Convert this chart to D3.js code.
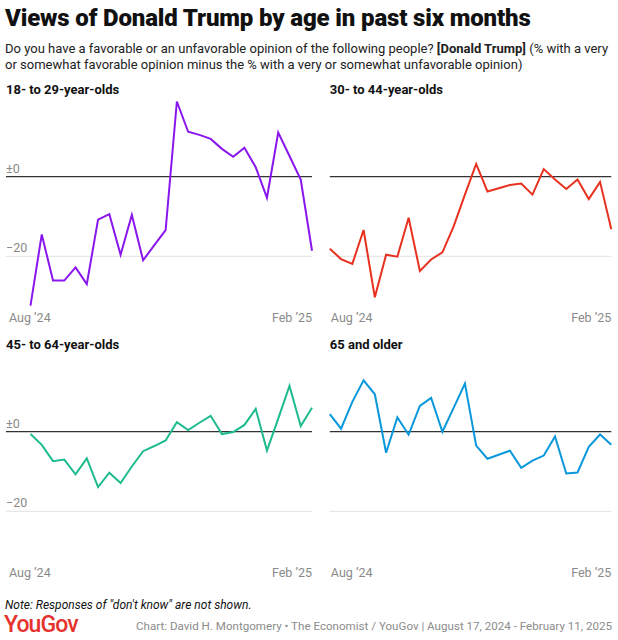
<!DOCTYPE html>
<html><head><meta charset="utf-8">
<script src="https://cdn.jsdelivr.net/npm/d3@7"></script>
<style>
body{margin:0;background:#fff;}
svg{display:block;font-family:Roboto, "Noto Sans", sans-serif;}
</style></head>
<body><svg id="c" width="618" height="640"></svg>
<script>
// ---- data ----
const dates = ["2024-08-20","2024-08-27","2024-09-03","2024-09-10","2024-09-17","2024-09-24","2024-10-01","2024-10-08","2024-10-15","2024-10-22","2024-10-29","2024-11-05","2024-11-12","2024-11-19","2024-11-26","2024-12-03","2024-12-10","2024-12-17","2024-12-24","2024-12-31","2025-01-07","2025-01-14","2025-01-21","2025-01-28","2025-02-04","2025-02-11"];
const groups = ["18- to 29-year-olds","30- to 44-year-olds","45- to 64-year-olds","65 and older"];
const age18to29 = [-32.4,-14.5,-26.1,-26.1,-22.8,-27.0,-10.8,-9.4,-19.6,-9.6,-21.0,-17.2,-13.4,18.9,11.3,10.5,9.5,7.0,5.0,7.3,2.4,-5.3,11.1,5.2,-0.7,-18.6];
const age30to44 = [-18.1,-20.7,-21.9,-13.4,-30.3,-19.6,-20.1,-10.3,-23.7,-20.8,-19.0,-12.5,-4.5,3.2,-3.7,-2.9,-2.1,-1.7,-4.5,1.9,-0.7,-3.1,-0.7,-5.6,-1.3,-13.2];
const age45to64 = [-0.6,-3.3,-7.4,-7.0,-10.7,-6.7,-13.9,-10.3,-12.9,-8.75,-4.9,-3.6,-2.2,2.4,0.4,2.25,4.0,-0.6,-0.1,1.7,5.75,-4.75,3.3,11.5,1.4,6.0];
const age65plus = [4.4,0.75,7.5,12.9,9.4,-5.3,3.6,-0.75,6.5,8.5,0.0,6.0,12.1,-3.5,-6.8,-5.8,-4.75,-9.1,-7.25,-6.0,-1.2,-10.5,-10.25,-3.8,-0.7,-3.3];
const series = [age18to29, age30to44, age45to64, age65plus];
const colors = ["#8a16ee","#e8311f","#1dbb8e","#0a98db"];
const yTicks = [0,-20];
const yTickLabels = ["±0","\u221220"];
const xTickLabels = ["Aug \u201924","Feb \u201925"];

// ---- layout ----
const svg = d3.select("#c");
const parse = d3.timeParse("%Y-%m-%d");
const dts = dates.map(parse);
const plotW = 281.5;
const pxPerUnit = 3.98;
const yDomain = [-33, 20];
const plotH = (yDomain[1]-yDomain[0])*pxPerUnit;
const panels = [
  {plotX:30.5, outerX:6, zeroY:176.7, labelY:321.5},
  {plotX:329.8, outerX:329.8, zeroY:176.7, labelY:321.5},
  {plotX:30.5, outerX:6, zeroY:431.7, labelY:576.5},
  {plotX:329.8, outerX:329.8, zeroY:431.7, labelY:576.5}
];

// title
svg.append("text").attr("x",5).attr("y",26).attr("font-size",24).attr("font-weight",900)
  .attr("fill","#111").attr("letter-spacing","-0.15").text("Views of Donald Trump by age in past six months");
const sub1 = svg.append("text").attr("x",5).attr("y",52.5).attr("font-size",13).attr("fill","#222");
sub1.append("tspan").text("Do you have a favorable or an unfavorable opinion of the following people? ");
sub1.append("tspan").attr("font-weight",700).text("[Donald Trump]");
sub1.append("tspan").text(" (% with a very");
svg.append("text").attr("x",5).attr("y",68.5).attr("font-size",13).attr("fill","#222")
  .text("or somewhat favorable opinion minus the % with a very or somewhat unfavorable opinion)");

panels.forEach((p,i)=>{
  const g = svg.append("g");
  const x = d3.scaleTime().domain([dts[0], dts[dts.length-1]]).range([p.plotX, p.plotX+plotW]);
  const top = p.zeroY - yDomain[1]*pxPerUnit;
  const y = d3.scaleLinear().domain(yDomain).range([top+plotH, top]);
  // panel title
  g.append("text").attr("x",p.outerX).attr("y",p.zeroY-82.5).attr("font-size",13).attr("font-weight",700)
    .attr("fill","#111").text(groups[i]);
  // gridlines
  yTicks.forEach((t,k)=>{
    g.append("line").attr("x1",p.outerX).attr("x2",p.plotX+plotW).attr("y1",y(t)).attr("y2",y(t))
      .attr("stroke", t===0 ? "#333" : "#e2e2e2").attr("stroke-width", t===0?1.2:1);
    if (i%2===0) {
      g.append("text").attr("x",p.outerX).attr("y",y(t)-4).attr("font-size",12.5).attr("fill","#8a8a8a")
        .text(yTickLabels[k]);
    }
  });
  // x labels
  g.append("text").attr("x",p.outerX+ (i%2===0?3:1)).attr("y",p.labelY).attr("font-size",12.5).attr("fill","#8a8a8a")
    .text(xTickLabels[0]);
  g.append("text").attr("x",x.range()[1]).attr("y",p.labelY).attr("font-size",12.5).attr("fill","#8a8a8a")
    .attr("text-anchor","end").text(xTickLabels[1]);
  // line
  const line = d3.line().x((d,j)=>x(dts[j])).y(d=>y(d));
  g.append("path").datum(series[i]).attr("d",line).attr("fill","none").attr("stroke",colors[i])
    .attr("stroke-width",2).attr("stroke-linejoin","miter").attr("stroke-linecap","butt");
});

// footer
svg.append("text").attr("x",5).attr("y",608.5).attr("font-size",12).attr("font-style","italic").attr("fill","#111")
  .text("Note: Responses of \"don't know\" are not shown.");
svg.append("text").attr("x",4).attr("y",632).attr("font-size",23).attr("font-weight",500).attr("fill","#e5322d")
  .attr("letter-spacing","-0.9").text("YouGov");
svg.append("text").attr("x",612).attr("y",630).attr("font-size",11.6).attr("fill","#8c8c8c").attr("text-anchor","end")
  .text("Chart: David H. Montgomery \u2022 The Economist / YouGov | August 17, 2024 - February 11, 2025");
</script></body></html>
